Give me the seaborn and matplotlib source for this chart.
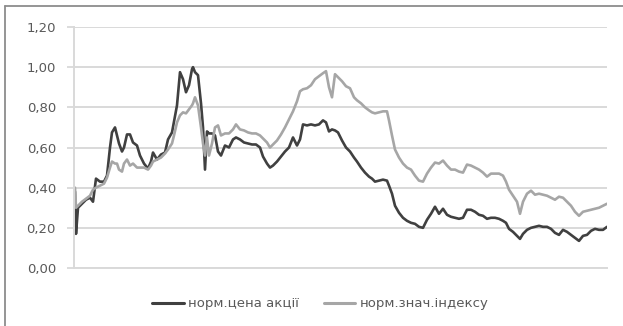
import matplotlib
matplotlib.use("Agg")
import matplotlib.pyplot as plt
from matplotlib.lines import Line2D
from matplotlib.ticker import FuncFormatter
import pandas as pd
import seaborn as sns

# Trading-day positions shared by both series
day = [0, 1, 3, 7, 11, 15, 18, 21, 25, 29, 32, 35, 37, 40, 42, 44, 47, 49, 52, 55,
       58, 62, 65, 69, 73, 76, 78, 82, 86, 90, 93, 97, 99, 102, 105, 108, 111, 114, 117, 118,
       120, 123, 126, 128, 130, 132, 134, 137, 140, 143, 146, 150, 154, 158, 161, 165, 169, 173, 177, 181,
       185, 188, 192, 195, 198, 202, 206, 210, 214, 218, 222, 225, 228, 232, 236, 240, 244, 248, 251, 254,
       257, 260, 263, 267, 271, 275, 279, 282, 286, 290, 294, 297, 300, 304, 308, 312, 314, 317, 320, 324,
       328, 332, 336, 340, 344, 348, 352, 356, 360, 364, 368, 372, 376, 380, 384, 388, 392, 396, 400, 404,
       408, 412, 416, 420, 424, 428, 431, 434, 438, 442, 445, 448, 452, 456, 460, 464, 468, 472, 476, 480,
       484, 488, 492, 496, 500, 504, 508, 512, 516, 520, 524, 528, 532]

# Normalised share price
share_price = [0.38, 0.17, 0.30, 0.32, 0.34, 0.35, 0.33, 0.445, 0.43, 0.43, 0.46, 0.60, 0.675, 0.70, 0.66, 0.62, 0.58, 0.60, 0.665, 0.665,
               0.625, 0.61, 0.56, 0.52, 0.495, 0.53, 0.575, 0.54, 0.565, 0.575, 0.64, 0.675, 0.73, 0.81, 0.975, 0.94, 0.875, 0.91, 0.99, 1.00,
               0.975, 0.96, 0.82, 0.70, 0.49, 0.68, 0.67, 0.67, 0.66, 0.58, 0.56, 0.61, 0.60, 0.64, 0.65, 0.64, 0.625, 0.62, 0.615, 0.615,
               0.60, 0.555, 0.52, 0.50, 0.51, 0.53, 0.555, 0.58, 0.60, 0.65, 0.61, 0.64, 0.715, 0.71, 0.715, 0.71, 0.715, 0.735, 0.725, 0.68,
               0.69, 0.685, 0.675, 0.635, 0.60, 0.58, 0.55, 0.53, 0.50, 0.475, 0.455, 0.445, 0.43, 0.435, 0.44, 0.435, 0.41, 0.37, 0.31, 0.275,
               0.25, 0.235, 0.225, 0.22, 0.205, 0.20, 0.24, 0.27, 0.305, 0.27, 0.295, 0.265, 0.255, 0.25, 0.245, 0.25, 0.29, 0.29, 0.28, 0.265,
               0.26, 0.245, 0.25, 0.25, 0.245, 0.235, 0.225, 0.195, 0.18, 0.16, 0.145, 0.17, 0.19, 0.20, 0.205, 0.21, 0.205, 0.205, 0.195, 0.175,
               0.165, 0.19, 0.18, 0.165, 0.15, 0.135, 0.16, 0.165, 0.185, 0.195, 0.19, 0.19, 0.205]

# Normalised index value
index_value = [0.40, 0.30, 0.31, 0.33, 0.345, 0.36, 0.39, 0.40, 0.41, 0.42, 0.45, 0.50, 0.53, 0.52, 0.52, 0.49, 0.48, 0.52, 0.54, 0.51,
               0.52, 0.50, 0.50, 0.50, 0.49, 0.51, 0.53, 0.54, 0.55, 0.57, 0.59, 0.62, 0.66, 0.725, 0.76, 0.775, 0.77, 0.79, 0.81, 0.82,
               0.85, 0.81, 0.70, 0.62, 0.56, 0.65, 0.56, 0.62, 0.70, 0.71, 0.66, 0.67, 0.67, 0.69, 0.715, 0.69, 0.685, 0.675, 0.67, 0.67,
               0.66, 0.645, 0.625, 0.60, 0.615, 0.635, 0.665, 0.70, 0.74, 0.78, 0.83, 0.88, 0.89, 0.895, 0.91, 0.94, 0.955, 0.97, 0.98, 0.90,
               0.85, 0.965, 0.95, 0.93, 0.905, 0.895, 0.85, 0.835, 0.82, 0.80, 0.785, 0.775, 0.77, 0.775, 0.78, 0.78, 0.735, 0.66, 0.59, 0.55,
               0.52, 0.50, 0.49, 0.46, 0.435, 0.43, 0.47, 0.50, 0.525, 0.52, 0.535, 0.51, 0.49, 0.49, 0.48, 0.475, 0.515, 0.51, 0.50, 0.49,
               0.475, 0.455, 0.47, 0.47, 0.47, 0.46, 0.43, 0.39, 0.36, 0.33, 0.27, 0.33, 0.37, 0.385, 0.365, 0.37, 0.365, 0.36, 0.35, 0.34,
               0.355, 0.35, 0.33, 0.31, 0.28, 0.26, 0.28, 0.285, 0.29, 0.295, 0.30, 0.31, 0.32]

series_names = ["норм.цена акції", "норм.знач.індексу"]
series_colors = ["#404040", "#a6a6a6"]
yticks = [0.0, 0.2, 0.4, 0.6, 0.8, 1.0, 1.2]

df = pd.DataFrame({
    "day": day * 2,
    "value": share_price + index_value,
    "series": [series_names[0]] * len(day) + [series_names[1]] * len(day),
})

sns.set_theme(style="white")
plt.rcParams["font.family"] = ["DejaVu Sans"]

fig = plt.figure(figsize=(6.23, 3.26), dpi=100)
ax = fig.add_axes([74 / 623, 1 - 268 / 326, (607 - 74) / 623, (268 - 27) / 326])

sns.lineplot(data=df, x="day", y="value", hue="series", hue_order=series_names,
             palette=series_colors, linewidth=1.9, ax=ax, legend=False)

grid_col = "#d9d9d9"
ax.set_ylim(0, 1.2)
ax.set_xlim(-1, day[-1])
ax.set_yticks(yticks)
ax.yaxis.set_major_formatter(FuncFormatter(lambda v, _: f"{v:.2f}".replace(".", ",")))
ax.yaxis.grid(True, color=grid_col, linewidth=1.4)
ax.set_axisbelow(True)
ax.set_xticks([])
ax.set_xlabel("")
ax.set_ylabel("")
ax.tick_params(axis="y", length=5, width=1.3, color=grid_col, labelsize=9.5,
               labelcolor="#595959", pad=8, left=True)
for side in ("top", "right"):
    ax.spines[side].set_visible(False)
for side in ("left", "bottom"):
    ax.spines[side].set_color(grid_col)
    ax.spines[side].set_linewidth(1.4)

handles = [Line2D([], [], color=c, linewidth=2.2) for c in series_colors]
fig.legend(handles, series_names, loc="center", bbox_to_anchor=(0.514, 0.068),
           ncol=2, frameon=False, fontsize=9.5, handlelength=2.4,
           handletextpad=0.3, columnspacing=1.9, labelcolor="#595959")

# Chart-area frame along the left and top edges
frame_col = "#8c8c8c"
fig.add_artist(Line2D([4.5 / 623, 4.5 / 623], [0, 1 - 6 / 326], color=frame_col, linewidth=1.3))
fig.add_artist(Line2D([4.5 / 623, 1], [1 - 6 / 326, 1 - 6 / 326], color=frame_col, linewidth=1.3))

fig.savefig("out.png", dpi=100)
